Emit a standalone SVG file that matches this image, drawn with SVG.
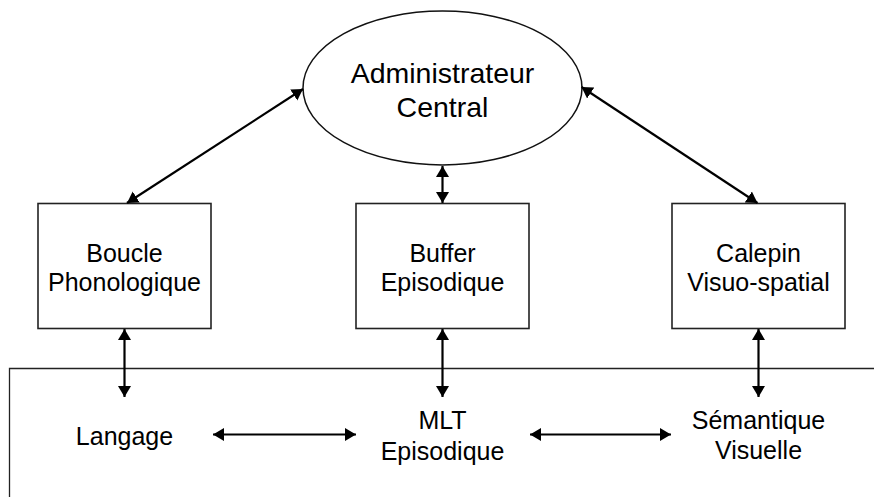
<svg xmlns="http://www.w3.org/2000/svg" width="874" height="497" viewBox="0 0 874 497">
<style>
text{font-family:"Liberation Sans",Arial,sans-serif;fill:#000;text-anchor:middle}
.b{font-size:25px}
.e{font-size:28.5px}
.box{fill:#fff;stroke:#222;stroke-width:1.6}
.c{stroke:#000;stroke-width:2.2;fill:none;marker-start:url(#ah);marker-end:url(#ah)}
.frame{stroke:#222;stroke-width:1.3;fill:none}
</style>
<defs>
<marker id="ah" viewBox="0 0 12 14" refX="11" refY="7" markerWidth="12" markerHeight="14" markerUnits="userSpaceOnUse" orient="auto-start-reverse">
<path d="M0,0.5 L11,7 L0,13.5 Z" fill="#000"/>
</marker>
</defs>
<path class="frame" d="M9.5,497 V368.5 H874"/>
<g id="central">
<ellipse cx="442.5" cy="88" rx="139.5" ry="77" fill="#fff" stroke="#111" stroke-width="1.5"/>
<text class="e" x="442.5" y="83">Administrateur</text>
<text class="e" x="442.5" y="117">Central</text>
</g>
<g id="boucle">
<rect class="box" x="38" y="203.5" width="173" height="125"/>
<text class="b" x="124.5" y="262">Boucle</text>
<text class="b" x="124.5" y="291">Phonologique</text>
</g>
<g id="buffer">
<rect class="box" x="356" y="203.5" width="173" height="125"/>
<text class="b" x="442.5" y="262">Buffer</text>
<text class="b" x="442.5" y="291">Episodique</text>
</g>
<g id="calepin">
<rect class="box" x="672" y="203.5" width="173" height="125"/>
<text class="b" x="758.5" y="262">Calepin</text>
<text class="b" x="758.5" y="291">Visuo-spatial</text>
</g>
<g id="langage">
<text class="b" x="124.5" y="445">Langage</text>
</g>
<g id="mlt">
<text class="b" x="442.5" y="429">MLT</text>
<text class="b" x="442.5" y="460">Episodique</text>
</g>
<g id="semantique">
<text class="b" x="758.5" y="429">Sémantique</text>
<text class="b" x="758.5" y="459">Visuelle</text>
</g>
<g id="connectors">
<line class="c" x1="127" y1="203" x2="303" y2="89"/>
<line class="c" x1="581.5" y1="87" x2="757.5" y2="203"/>
<line class="c" x1="442.5" y1="166" x2="442.5" y2="203"/>
<line class="c" x1="124.5" y1="329" x2="124.5" y2="397"/>
<line class="c" x1="442.5" y1="329" x2="442.5" y2="397"/>
<line class="c" x1="758.5" y1="329" x2="758.5" y2="397"/>
<line class="c" x1="213" y1="434.5" x2="356" y2="434.5"/>
<line class="c" x1="530" y1="434.5" x2="671" y2="434.5"/>
</g>
</svg>
